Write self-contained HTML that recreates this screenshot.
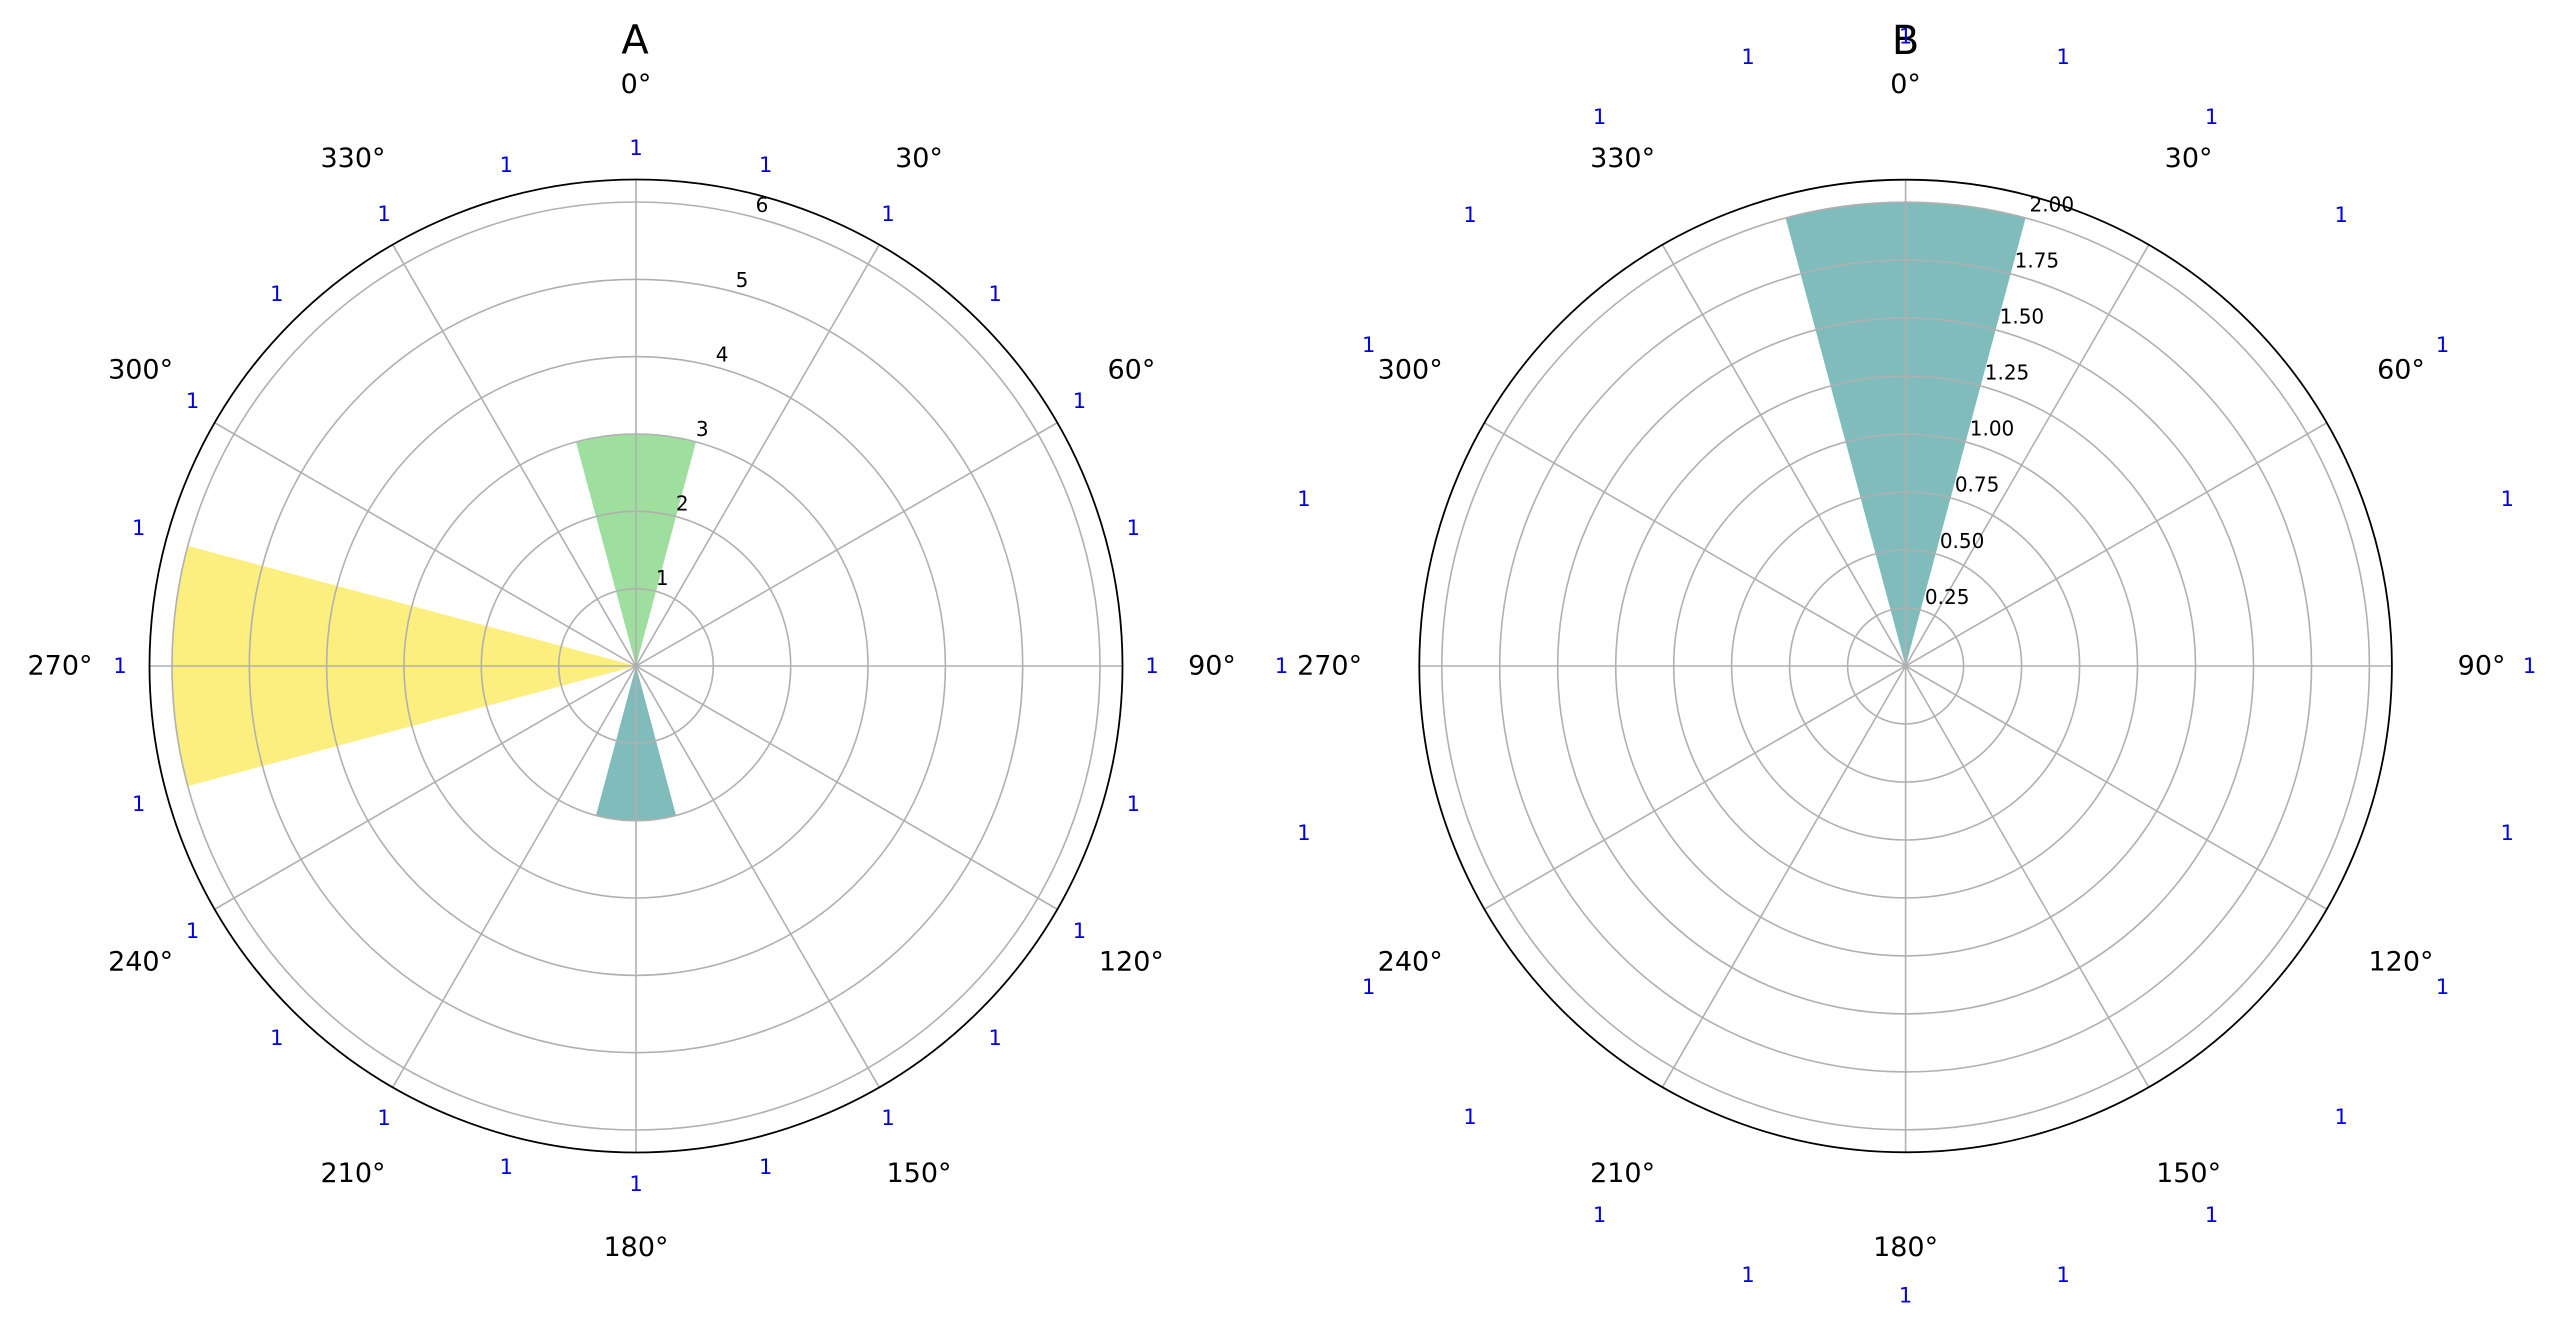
<!DOCTYPE html>
<html><head><meta charset="utf-8"><style>
html,body{margin:0;padding:0;background:#fff;}
svg{display:block;font-family:"DejaVu Sans","Liberation Sans",sans-serif;}
.t{font-size:27px;fill:#000;text-anchor:middle;dominant-baseline:central;}
.b{font-size:21px;fill:#0000dd;text-anchor:middle;dominant-baseline:central;}
.r{font-size:20px;fill:#000;text-anchor:middle;dominant-baseline:central;}
.g{stroke:#b0b0b0;stroke-width:1.6;fill:none;}
</style></head><body>
<svg width="2560" height="1324" viewBox="0 0 2560 1324" xmlns="http://www.w3.org/2000/svg">
<rect width="2560" height="1324" fill="#fff"/>
<!-- Plot A -->
<path d="M636,666 L576,441.9 A232,232 0 0 1 696,441.9 Z" fill="#9ede9f"/>
<path d="M636,666 L676,815.4 A154.7,154.7 0 0 1 596,815.4 Z" fill="#80bcbb"/>
<path d="M636,666 L187.8,786.1 A464,464 0 0 1 187.8,545.9 Z" fill="#fdee80"/>
<g class="g">
<circle cx="636" cy="666" r="77.3"/><circle cx="636" cy="666" r="154.7"/><circle cx="636" cy="666" r="232"/>
<circle cx="636" cy="666" r="309.4"/><circle cx="636" cy="666" r="386.7"/><circle cx="636" cy="666" r="464"/>
<line x1="636" y1="179.5" x2="636" y2="1152.5" transform="rotate(0 636 666)"/>
<line x1="636" y1="179.5" x2="636" y2="1152.5" transform="rotate(30 636 666)"/>
<line x1="636" y1="179.5" x2="636" y2="1152.5" transform="rotate(60 636 666)"/>
<line x1="636" y1="179.5" x2="636" y2="1152.5" transform="rotate(90 636 666)"/>
<line x1="636" y1="179.5" x2="636" y2="1152.5" transform="rotate(120 636 666)"/>
<line x1="636" y1="179.5" x2="636" y2="1152.5" transform="rotate(150 636 666)"/>
</g>
<circle cx="636" cy="666" r="486.5" fill="none" stroke="#000" stroke-width="1.8"/>
<text x="635" y="40.6" style="font-size:40px;text-anchor:middle;dominant-baseline:central">A</text>
<text class="t" x="636" y="84.4">0°</text><text class="t" x="919" y="158.4">30°</text><text class="t" x="1131.4" y="369.8">60°</text>
<text class="t" x="1212" y="666">90°</text><text class="t" x="1131.4" y="962.2">120°</text><text class="t" x="919" y="1173.6">150°</text>
<text class="t" x="636" y="1247.6">180°</text><text class="t" x="353" y="1173.6">210°</text><text class="t" x="140.6" y="962.2">240°</text>
<text class="t" x="60" y="666">270°</text><text class="t" x="140.6" y="369.8">300°</text><text class="t" x="353" y="158.4">330°</text>
<text class="r" x="662.3" y="578.2">1</text><text class="r" x="682.2" y="503.6">2</text><text class="r" x="702.2" y="429">3</text>
<text class="r" x="722.1" y="354.4">4</text><text class="r" x="742" y="279.8">5</text><text class="r" x="762" y="205.2">6</text>
<text class="b" x="636" y="148.2">1</text><text class="b" x="765.7" y="164.8">1</text><text class="b" x="888" y="214">1</text>
<text class="b" x="995.2" y="294">1</text><text class="b" x="1079.4" y="400.9">1</text><text class="b" x="1133.3" y="528">1</text>
<text class="b" x="1152" y="666">1</text><text class="b" x="1133.3" y="804">1</text><text class="b" x="1079.4" y="931.1">1</text>
<text class="b" x="995.2" y="1038">1</text><text class="b" x="888" y="1118">1</text><text class="b" x="765.7" y="1167.2">1</text>
<text class="b" x="636" y="1183.8">1</text><text class="b" x="506.3" y="1167.2">1</text><text class="b" x="384" y="1118">1</text>
<text class="b" x="276.8" y="1038">1</text><text class="b" x="192.6" y="931.1">1</text><text class="b" x="138.7" y="804">1</text>
<text class="b" x="120" y="666">1</text><text class="b" x="138.7" y="528">1</text><text class="b" x="192.6" y="400.9">1</text>
<text class="b" x="276.8" y="294">1</text><text class="b" x="384" y="214">1</text><text class="b" x="506.3" y="164.8">1</text>
<!-- Plot B -->
<path d="M1905.6,666 L1785.6,218 A463.8,463.8 0 0 1 2025.6,218 Z" fill="#80bcbb"/>
<g class="g">
<circle cx="1905.6" cy="666" r="58"/><circle cx="1905.6" cy="666" r="116"/><circle cx="1905.6" cy="666" r="174"/>
<circle cx="1905.6" cy="666" r="231.9"/><circle cx="1905.6" cy="666" r="289.9"/><circle cx="1905.6" cy="666" r="347.9"/>
<circle cx="1905.6" cy="666" r="405.9"/><circle cx="1905.6" cy="666" r="463.8"/>
<line x1="1905.6" y1="179.5" x2="1905.6" y2="1152.5" transform="rotate(0 1905.6 666)"/>
<line x1="1905.6" y1="179.5" x2="1905.6" y2="1152.5" transform="rotate(30 1905.6 666)"/>
<line x1="1905.6" y1="179.5" x2="1905.6" y2="1152.5" transform="rotate(60 1905.6 666)"/>
<line x1="1905.6" y1="179.5" x2="1905.6" y2="1152.5" transform="rotate(90 1905.6 666)"/>
<line x1="1905.6" y1="179.5" x2="1905.6" y2="1152.5" transform="rotate(120 1905.6 666)"/>
<line x1="1905.6" y1="179.5" x2="1905.6" y2="1152.5" transform="rotate(150 1905.6 666)"/>
</g>
<circle cx="1905.6" cy="666" r="486.3" fill="none" stroke="#000" stroke-width="1.8"/>
<text x="1905.6" y="41" style="font-size:40px;text-anchor:middle;dominant-baseline:central">B</text>
<text class="t" x="1905.6" y="84.4">0°</text><text class="t" x="2188.6" y="158.4">30°</text><text class="t" x="2401" y="369.8">60°</text>
<text class="t" x="2481.6" y="666">90°</text><text class="t" x="2401" y="962.2">120°</text><text class="t" x="2188.6" y="1173.6">150°</text>
<text class="t" x="1905.6" y="1247.6">180°</text><text class="t" x="1622.6" y="1173.6">210°</text><text class="t" x="1410.2" y="962.2">240°</text>
<text class="t" x="1329.6" y="666">270°</text><text class="t" x="1410.2" y="369.8">300°</text><text class="t" x="1622.6" y="158.4">330°</text>
<text class="r" x="1947.2" y="596.8">0.25</text><text class="r" x="1962.1" y="540.8">0.50</text><text class="r" x="1977.1" y="484.7">0.75</text>
<text class="r" x="1992" y="428.7">1.00</text><text class="r" x="2007" y="372.7">1.25</text><text class="r" x="2021.9" y="316.7">1.50</text>
<text class="r" x="2036.9" y="260.6">1.75</text><text class="r" x="2051.8" y="204.6">2.00</text>
<text class="b" x="1905.6" y="36.4">1</text><text class="b" x="2063.2" y="56.8">1</text><text class="b" x="2211.6" y="117.2">1</text>
<text class="b" x="2341.2" y="214.9">1</text><text class="b" x="2442.5" y="345">1</text><text class="b" x="2507.3" y="499.1">1</text>
<text class="b" x="2529.6" y="666">1</text><text class="b" x="2507.3" y="832.9">1</text><text class="b" x="2442.5" y="987">1</text>
<text class="b" x="2341.2" y="1117.1">1</text><text class="b" x="2211.6" y="1214.8">1</text><text class="b" x="2063.2" y="1275.2">1</text>
<text class="b" x="1905.6" y="1295.6">1</text><text class="b" x="1748" y="1275.2">1</text><text class="b" x="1599.6" y="1214.8">1</text>
<text class="b" x="1470" y="1117.1">1</text><text class="b" x="1368.7" y="987">1</text><text class="b" x="1303.9" y="832.9">1</text>
<text class="b" x="1281.6" y="666">1</text><text class="b" x="1303.9" y="499.1">1</text><text class="b" x="1368.7" y="345">1</text>
<text class="b" x="1470" y="214.9">1</text><text class="b" x="1599.6" y="117.2">1</text><text class="b" x="1748" y="56.8">1</text>
</svg>
</body></html>
